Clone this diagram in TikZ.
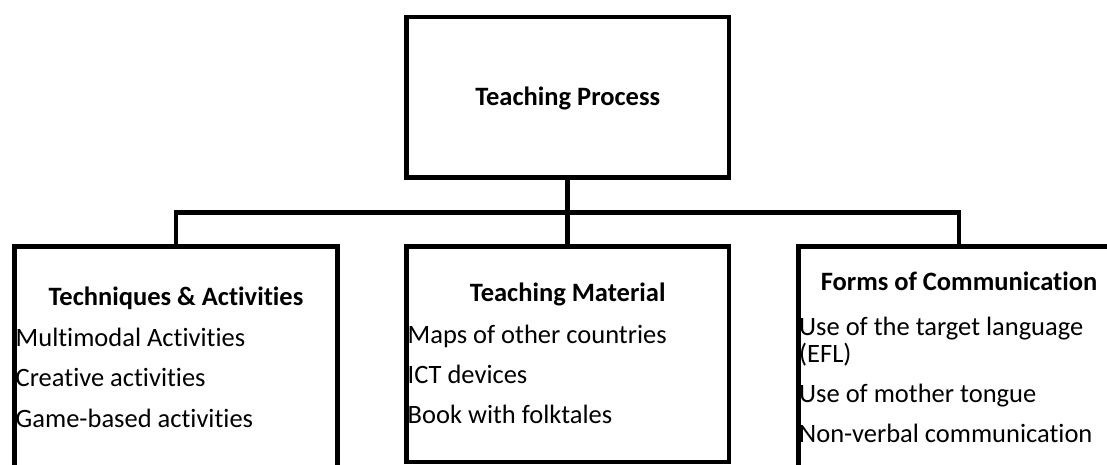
\documentclass[tikz,border=0pt]{standalone}
\usepackage{fontspec}
\setmainfont[Ligatures=NoCommon]{Carlito}
\begin{document}
\begin{tikzpicture}[x=1pt,y=-1pt,
  box/.style={draw=black,line width=4.8pt,rectangle,inner sep=0pt},
  link/.style={draw=black,line width=4.8pt},
  head/.style={font=\fontsize{26.5}{31}\selectfont\bfseries,inner sep=0pt,anchor=base},
  item/.style={font=\fontsize{26.5}{31}\selectfont,inner sep=0pt,anchor=base west}]
\clip (0,0) rectangle (1107,465);
\fill[white] (0,0) rectangle (1107,465);
% boxes
\node[box,minimum width=322.5pt,minimum height=160.5pt] (top) at (567.75,97.25) {};
\node[box,minimum width=323pt,minimum height=233.5pt] (left) at (176,363.25) {};
\node[box,minimum width=322.5pt,minimum height=215.5pt] (mid) at (567.75,354.25) {};
\node[box,minimum width=321pt,minimum height=233.5pt] (right) at (959,363.25) {};
% connectors
\coordinate (bar) at (567.75,212.5);
\draw[link] (top.south) -- (mid.north);
\draw[link] (left.north) -- (left.north |- bar) -- (right.north |- bar) -- (right.north);
% texts
\node[head] (tp) at (567.75,106) {Teaching Process};
\node[head] (lt) at (176,305.5) {Techniques \& Activities};
\node[item] (l1) at (15.5,346) {Multimodal Activities};
\node[item] (l2) at (15.5,386.5) {Creative activities};
\node[item] (l3) at (15.5,427) {Game-based activities};
\node[head] (mt) at (567.75,301) {Teaching Material};
\node[item] (m1) at (407.5,343) {Maps of other countries};
\node[item] (m2) at (407.5,383) {ICT devices};
\node[item] (m3) at (407.5,423) {Book with folktales};
\node[head] (rt) at (959,290) {Forms of Communication};
\node[item] (r1) at (799,335) {Use of the target language};
\node[item] (r1b) at (799,362) {(EFL)};
\node[item] (r2) at (799,402) {Use of mother tongue};
\node[item] (r3) at (799,442) {Non-verbal communication};
\end{tikzpicture}
\end{document}
